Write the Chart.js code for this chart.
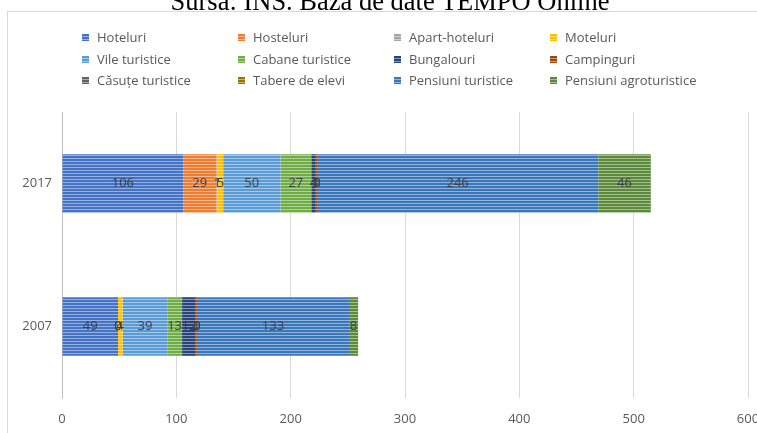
<!DOCTYPE html>
<html>
<head>
<meta charset="utf-8">
<script src="https://cdn.jsdelivr.net/npm/chart.js@4/dist/chart.umd.min.js"></script>
<style>
  html,body{margin:0;padding:0;background:#fff;}
  body{width:757px;height:433px;overflow:hidden;position:relative;font-family:"Open Sans",sans-serif;}
  #frame{position:absolute;left:7px;top:11px;width:820px;height:500px;border:1px solid #d9d9d9;box-sizing:border-box;}
  #title{position:absolute;left:0;width:780px;text-align:center;top:-12px;font-family:"Liberation Serif","Times New Roman",serif;font-size:26.5px;line-height:26.5px;color:#000;white-space:nowrap;}
  #c{position:absolute;left:0;top:0;}
  .lg{position:absolute;font-size:13px;color:#595959;white-space:nowrap;line-height:16px;}
  .lg i{position:absolute;width:7px;height:7px;left:-15px;top:5px;}
</style>
</head>
<body>
<div id="frame"></div>
<canvas id="c" width="790" height="433"></canvas>
<div id="legend"></div>
<div id="title">Sursa: INS. Baza de date TEMPO Online</div>
<script>
// ---- data ----
const categories = ['2017', '2007'];
const seriesNames = ['Hoteluri','Hosteluri','Apart-hoteluri','Moteluri','Vile turistice','Cabane turistice','Bungalouri','Campinguri','Căsuțe turistice','Tabere de elevi','Pensiuni turistice','Pensiuni agroturistice'];
const hoteluri = [106, 49];
const hosteluri = [29, 0];
const apartHoteluri = [1, 0];
const moteluri = [5, 4];
const vileTuristice = [50, 39];
const cabaneTuristice = [27, 13];
const bungalouri = [4, 12];
const campinguri = [1, 1];
const casuteTuristice = [0, 0];
const tabereElevi = [0, 0];
const pensiuniTuristice = [246, 133];
const pensiuniAgroturistice = [46, 8];
const xTicks = [0, 100, 200, 300, 400, 500, 600];

const seriesValues = [hoteluri, hosteluri, apartHoteluri, moteluri, vileTuristice, cabaneTuristice, bungalouri, campinguri, casuteTuristice, tabereElevi, pensiuniTuristice, pensiuniAgroturistice];
const colors = ['#4472C4','#ED7D31','#A5A5A5','#FFC000','#5B9BD5','#70AD47','#264478','#9E480E','#636363','#997300','#3B76BA','#5B8A3A'];

function lighten(hex, t){
  const n = parseInt(hex.slice(1),16);
  const r=(n>>16)&255,g=(n>>8)&255,b=n&255;
  const f=v=>Math.round(v+(255-v)*t);
  return 'rgb('+f(r)+','+f(g)+','+f(b)+')';
}
function stripe(hex){
  const c=document.createElement('canvas'); c.width=4; c.height=3;
  const g=c.getContext('2d');
  g.fillStyle=hex; g.fillRect(0,0,4,3);
  g.fillStyle=lighten(hex,0.45); g.fillRect(0,2,4,1);
  return g.createPattern(c,'repeat');
}

// HTML legend in 4 columns
const colX = [97, 253, 409, 565];
const rowY = [29, 50.5, 72];
const lg = document.getElementById('legend');
seriesNames.forEach((name,i)=>{
  const d=document.createElement('div');
  d.className='lg';
  d.style.left=colX[i%4]+'px';
  d.style.top=rowY[Math.floor(i/4)]+'px';
  const box=document.createElement('i');
  box.style.background='repeating-linear-gradient(to bottom,'+colors[i]+' 0px,'+colors[i]+' 2px,'+lighten(colors[i],0.45)+' 2px,'+lighten(colors[i],0.45)+' 3px)';
  d.appendChild(box);
  d.appendChild(document.createTextNode(name));
  lg.appendChild(d);
});

const labelPlugin = {
  id:'segLabels',
  afterDatasetsDraw(chart){
    const ctx=chart.ctx;
    ctx.save();
    ctx.font='13px "Open Sans", sans-serif';
    ctx.fillStyle='#3a3f4a';
    ctx.textAlign='center';
    ctx.textBaseline='middle';
    chart.data.datasets.forEach((ds,di)=>{
      const meta=chart.getDatasetMeta(di);
      meta.data.forEach((el,j)=>{
        const v=ds.data[j];
        if(v===null||v===undefined) return;
        const p=el.getProps(['x','y','base'],true);
        ctx.fillText(String(v),(p.x+p.base)/2,p.y);
      });
    });
    ctx.restore();
  }
};

new Chart(document.getElementById('c'),{
  type:'bar',
  data:{
    labels:categories,
    datasets:seriesNames.map((n,i)=>({
      label:n,
      data:seriesValues[i],
      backgroundColor:stripe(colors[i]),
      borderWidth:0,
      categoryPercentage:1,
      barPercentage:0.41
    }))
  },
  options:{
    indexAxis:'y',
    responsive:false,
    devicePixelRatio:1,
    animation:false,
    layout:{padding:{left:0,top:112,right:42,bottom:0}},
    plugins:{legend:{display:false},tooltip:{enabled:false},title:{display:false}},
    scales:{
      x:{
        stacked:true,min:0,max:600,
        afterBuildTicks:s=>{s.ticks=xTicks.map(v=>({value:v}));},
        afterFit:s=>{s.height=35;},
        grid:{color:'#d9d9d9',drawTicks:false},
        border:{display:false},
        ticks:{padding:13,color:'#595959',font:{family:'"Open Sans", sans-serif',size:13}}
      },
      y:{
        stacked:true,
        afterFit:s=>{s.width=62;},
        grid:{display:true,drawOnChartArea:false,drawTicks:false},
        border:{display:true,color:'#bfbfbf',width:1},
        ticks:{padding:10,color:'#595959',font:{family:'"Open Sans", sans-serif',size:13}}
      }
    }
  },
  plugins:[labelPlugin]
});
</script>
</body>
</html>
